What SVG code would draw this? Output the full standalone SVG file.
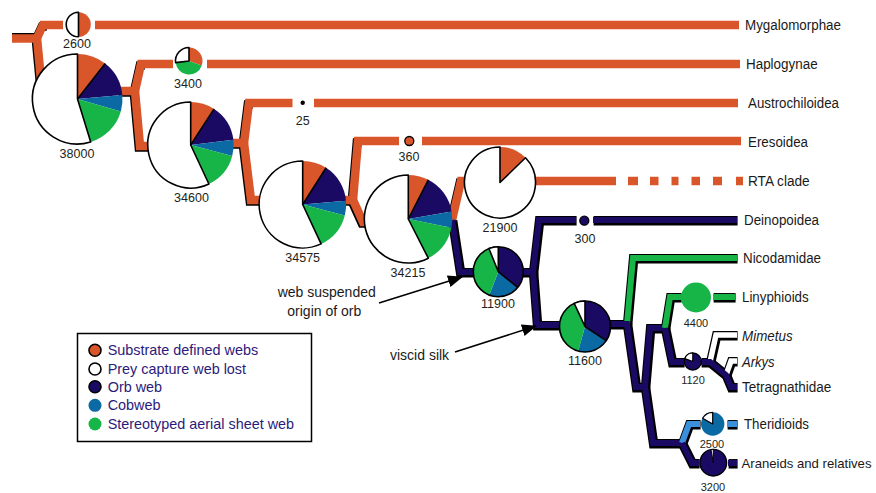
<svg xmlns="http://www.w3.org/2000/svg" width="876" height="493" viewBox="0 0 876 493">
<style>
.o{fill:none;stroke:#d9562b;stroke-width:8.5;stroke-linejoin:miter}
.sh{fill:none;stroke:#000;stroke-width:8.5;stroke-linejoin:miter}
.k{fill:none;stroke:#000;stroke-width:9.5;stroke-linejoin:miter}
.nv{fill:none;stroke:#1b0a64;stroke-width:6;stroke-linejoin:miter}
.gr{fill:none;stroke:#17b548;stroke-width:6;stroke-linejoin:miter}
.lb{fill:none;stroke:#3b8fdb;stroke-width:6;stroke-linejoin:miter}
.wh{fill:none;stroke:#fff;stroke-width:5.5;stroke-linejoin:miter}
.cO{fill:#d9562b}.cN{fill:#1b0a64}.cB{fill:#0b69a3}.cG{fill:#17b548}
.cW{fill:#fff;stroke:#000;stroke-width:1.6;stroke-linejoin:round}
.ring{fill:none;stroke:#000;stroke-width:1.6}
.rad{stroke:#000;stroke-width:1.6}
.num{font-family:"Liberation Sans",Arial,sans-serif;font-size:12.5px;fill:#231f20;text-anchor:middle}
.sn{font-size:11px}
.lab{font-family:"Liberation Sans",Arial,sans-serif;font-size:14px;fill:#1a1a1a}
.leg{font-family:"Liberation Sans",Arial,sans-serif;font-size:14.4px;fill:#2c1a7a}
.ann{font-family:"Liberation Sans",Arial,sans-serif;font-size:14px;fill:#1a1a1a}
</style>
<defs>
<marker id="ah" markerUnits="userSpaceOnUse" markerWidth="16" markerHeight="12" refX="14" refY="6" orient="auto">
<path d="M0 0 L15 6 L0 12 Z" fill="#000"/>
</marker>
</defs>
<rect width="876" height="493" fill="#fff"/>

<g id="connectors">
 <g transform="translate(-1.2,1.4)">
  <path class="sh" d="M37 38 L43 25 L48 25"/>
  <path class="sh" d="M37 38 L41 80"/>
  <path class="sh" d="M120 91 L135 91 L141 64 L146 64"/>
  <path class="sh" d="M135 91 L140 146 L160 146"/>
  <path class="sh" d="M232 143 L244 143 L249 103 L254 103"/>
  <path class="sh" d="M244 143 L251 200 L270 200"/>
  <path class="sh" d="M344 200 L353 200 L358 141 L363 141"/>
  <path class="sh" d="M353 200 L363 222 L380 222"/>
  <path class="sh" d="M450 220 L452 220 L461 181 L468 181"/>
 </g>
 <line x1="12" y1="34" x2="36" y2="34" stroke="#000" stroke-width="2"/>
 <path class="o" d="M12 38.5 L37 38.5"/>
 <path class="o" d="M37 38 L43 25 L63 25"/>
 <path class="o" d="M95 25 L739 25"/>
 <path class="o" d="M37 38 L41 80"/>
 <path class="o" d="M120 91 L135 91 L141 64 L173 64"/>
 <path class="o" d="M207 64 L740 64"/>
 <path class="o" d="M135 91 L140 146 L160 146"/>
 <path class="o" d="M232 143 L244 143 L249 103 L292.5 103"/>
 <path class="o" d="M314 103 L738 103"/>
 <path class="o" d="M244 143 L251 200 L270 200"/>
 <path class="o" d="M344 200 L353 200 L358 141 L399 141"/>
 <path class="o" d="M422 141 L741 141"/>
 <path class="o" d="M353 200 L363 222 L380 222"/>
 <path class="o" d="M450 220 L452 220 L461 181 L470 181"/>
 <path class="o" d="M533 181 L616 181"/>
 <g stroke="#d9562b" stroke-width="8.5">
  <line x1="628" y1="181" x2="638" y2="181"/>
  <line x1="650" y1="181" x2="658.5" y2="181"/>
  <line x1="671.5" y1="181" x2="678.5" y2="181"/>
  <line x1="691.5" y1="181" x2="700" y2="181"/>
  <line x1="713" y1="181" x2="722" y2="181"/>
  <line x1="736" y1="181" x2="743" y2="181"/>
 </g>

 <g transform="translate(0.6,0.8)">
  <path class="k" d="M452 220 L460 272 L480 272"/>
  <path class="k" d="M521 272 L533 272 L539 220 L576 220"/>
  <path class="k" d="M593 220 L737 220"/>
  <path class="k" d="M533 272 L537 325 L565 325"/>
  <path class="k" d="M608 324 L627 324 L636 387 L645 387"/>
  <path class="k" d="M645 387 L650 328 L665 328"/>
  <path class="k" d="M645 387 L653 443 L682 443"/>
  <path class="k" d="M627 324 L633 258 L737 258"/>
  <path class="k" d="M665 328 L670 297 L681 297"/>
  <path class="k" d="M713 297 L735 297"/>
  <path class="k" d="M665 328 L672 362 L684 362"/>
  <path class="k" d="M701 362 L710 362 L726 375 L731 387 L737 387"/>
  <path class="k" d="M710 362 L716 335 L737 335"/>
  <path class="k" d="M726 375 L731 361 L737 361"/>
  <path class="k" d="M682 443 L689 424 L700 424"/>
  <path class="k" d="M727 424 L737 424"/>
  <path class="k" d="M682 443 L692 463 L699 463"/>
  <path class="k" d="M728 463 L737 463"/>
 </g>
 <path class="nv" d="M452 220 L460 272 L480 272"/>
 <path class="nv" d="M521 272 L533 272 L539 220 L576 220"/>
 <path class="nv" d="M593 220 L737 220"/>
 <path class="nv" d="M533 272 L537 325 L565 325"/>
 <path class="gr" d="M627 324 L633 258 L737 258"/>
 <path class="nv" d="M608 324 L627 324 L636 387 L645 387"/>
 <path class="nv" d="M645 387 L650 328 L665 328"/>
 <path class="nv" d="M645 387 L653 443 L682 443"/>
 <path class="gr" d="M665 328 L670 297 L681 297"/>
 <path class="gr" d="M713 297 L735 297"/>
 <path class="nv" d="M665 328 L672 362 L684 362"/>
 <path class="wh" d="M710 362 L716 335 L737 335"/>
 <path class="wh" d="M726 375 L731 361 L737 361"/>
 <path class="nv" d="M701 362 L710 362 L726 375 L731 387 L737 387"/>
 <path class="lb" d="M682 443 L689 424 L700 424"/>
 <path class="lb" d="M727 424 L737 424"/>
 <path class="nv" d="M682 443 L692 463 L699 463"/>
 <path class="nv" d="M728 463 L737 463"/>

 <line x1="379" y1="303" x2="462" y2="277" stroke="#000" stroke-width="1.6" marker-end="url(#ah)"/>
 <line x1="455" y1="352" x2="536" y2="326" stroke="#000" stroke-width="1.6" marker-end="url(#ah)"/>
</g>

<g id="node-2600">
 <path class="cO" d="M78.5 12.2 A12.3 12.3 0 0 1 78.5 36.8 Z"/>
 <path class="cW" d="M78.5 36.8 A12.3 12.3 0 0 1 78.5 12.2 Z"/>
 <text class="num" x="77" y="47.5">2600</text>
</g>
<g id="node-38000">
 <path class="cO" d="M77.5 99 L77.5 54 A45 45 0 0 1 105.2 63.5 Z"/>
 <path class="cN" d="M77.5 99 L105.2 63.5 A45 45 0 0 1 122.3 95.1 Z"/>
 <path class="cB" d="M77.5 99 L122.3 95.1 A45 45 0 0 1 120.8 111.4 Z"/>
 <path class="cG" d="M77.5 99 L120.8 111.4 A45 45 0 0 1 90.7 142 Z"/>
 <path class="cW" d="M77.5 99 L90.7 142 A45 45 0 1 1 77.5 54 Z"/>
 <line class="rad" x1="77.5" y1="99" x2="105.2" y2="63.5"/>
 <text class="num" x="77" y="157.5">38000</text>
</g>
<g id="node-3400">
 <path class="cO" d="M189 61 L189 47.5 A13.5 13.5 0 0 1 201.8 65.4 Z"/>
 <path class="cG" d="M189 61 L201.8 65.4 A13.5 13.5 0 0 1 175.6 62.6 Z"/>
 <path class="cW" d="M189 61 L175.6 62.6 A13.5 13.5 0 0 1 189 47.5 Z"/>
 <text class="num" x="188" y="87.5">3400</text>
</g>
<g id="node-34600">
 <path class="cO" d="M190.7 145 L190.7 102 A43 43 0 0 1 214.1 108.9 Z"/>
 <path class="cN" d="M190.7 145 L214.1 108.9 A43 43 0 0 1 233.4 139.8 Z"/>
 <path class="cB" d="M190.7 145 L233.4 139.8 A43 43 0 0 1 232.2 156.1 Z"/>
 <path class="cG" d="M190.7 145 L232.2 156.1 A43 43 0 0 1 208.9 184 Z"/>
 <path class="cW" d="M190.7 145 L208.9 184 A43 43 0 1 1 190.7 102 Z"/>
 <line class="rad" x1="190.7" y1="145" x2="214.1" y2="108.9"/>
 <text class="num" x="191.5" y="201.5">34600</text>
</g>
<g id="node-25">
 <circle cx="302.7" cy="102.7" r="2.2" fill="#000"/>
 <text class="num" x="302.7" y="124.5">25</text>
</g>
<g id="node-34575">
 <path class="cO" d="M302.7 204.5 L302.7 161 A43.5 43.5 0 0 1 326.1 167.8 Z"/>
 <path class="cN" d="M302.7 204.5 L326.1 167.8 A43.5 43.5 0 0 1 346 200.7 Z"/>
 <path class="cB" d="M302.7 204.5 L346 200.7 A43.5 43.5 0 0 1 344.8 215.4 Z"/>
 <path class="cG" d="M302.7 204.5 L344.8 215.4 A43.5 43.5 0 0 1 321.1 243.9 Z"/>
 <path class="cW" d="M302.7 204.5 L321.1 243.9 A43.5 43.5 0 1 1 302.7 161 Z"/>
 <line class="rad" x1="302.7" y1="204.5" x2="326.1" y2="167.8"/>
 <text class="num" x="302.7" y="261.5">34575</text>
</g>
<g id="node-360">
 <circle cx="409.3" cy="141" r="4.5" fill="#d9562b" stroke="#000" stroke-width="1.3"/>
 <text class="num" x="409" y="160.5">360</text>
</g>
<g id="node-34215">
 <path class="cO" d="M408.3 219 L408.3 175 A44 44 0 0 1 428.3 179.8 Z"/>
 <path class="cN" d="M408.3 219 L428.3 179.8 A44 44 0 0 1 451.6 211.4 Z"/>
 <path class="cB" d="M408.3 219 L451.6 211.4 A44 44 0 0 1 451.4 227.8 Z"/>
 <path class="cG" d="M408.3 219 L451.4 227.8 A44 44 0 0 1 428.3 258.2 Z"/>
 <path class="cW" d="M408.3 219 L428.3 258.2 A44 44 0 1 1 408.3 175 Z"/>
 <line class="rad" x1="408.3" y1="219" x2="428.3" y2="179.8"/>
 <text class="num" x="408" y="277">34215</text>
</g>
<g id="node-21900">
 <path class="cO" d="M500 182.5 L500 147 A35.5 35.5 0 0 1 525.5 157.8 Z"/>
 <path class="cW" d="M500 182.5 L525.5 157.8 A35.5 35.5 0 1 1 500 147 Z"/>
 <text class="num" x="500" y="231.5">21900</text>
</g>
<g id="node-300">
 <circle cx="584.3" cy="220.7" r="4.5" fill="#1b0a64" stroke="#000" stroke-width="1.3"/>
 <text class="num" x="585" y="242.5">300</text>
</g>
<g id="node-11900">
 <path class="cN" d="M498.3 271.7 L498.3 246.7 A25 25 0 0 1 517.7 287.4 Z"/>
 <path class="cB" d="M498.3 271.7 L517.7 287.4 A25 25 0 0 1 489.3 295 Z"/>
 <path class="cG" d="M498.3 271.7 L489.3 295 A25 25 0 0 1 488.9 248.5 Z"/>
 <circle class="ring" cx="498.3" cy="271.7" r="25"/>
 <path class="cW" d="M498.3 271.7 L488.9 248.5 A25 25 0 0 1 498.3 246.7 Z"/>
 <line class="rad" x1="498.3" y1="271.7" x2="517.7" y2="287.4"/>
 <text class="num" x="498" y="307.5">11900</text>
</g>
<g id="node-11600">
 <path class="cN" d="M585 326.5 L585 301 A25.5 25.5 0 0 1 606.2 340.6 Z"/>
 <path class="cB" d="M585 326.5 L606.2 340.6 A25.5 25.5 0 0 1 578.2 351.1 Z"/>
 <path class="cG" d="M585 326.5 L578.2 351.1 A25.5 25.5 0 0 1 574.2 303.4 Z"/>
 <circle class="ring" cx="585" cy="326.5" r="25.5"/>
 <path class="cW" d="M585 326.5 L574.2 303.4 A25.5 25.5 0 0 1 585 301 Z"/>
 <line class="rad" x1="585" y1="326.5" x2="606.2" y2="340.6"/>
 <text class="num" x="585" y="364.5">11600</text>
</g>
<g id="node-4400">
 <circle cx="696" cy="297.5" r="15" fill="#17b548"/>
 <text class="num sn" x="696" y="326.5">4400</text>
</g>
<g id="node-1120">
 <circle cx="692.8" cy="361.5" r="8.5" fill="#1b0a64" stroke="#000" stroke-width="1.3"/>
 <path class="cW" style="stroke-width:1.2" d="M692.8 361.5 L684.8 358.6 A8.5 8.5 0 0 1 692.8 353 Z"/>
 <text class="num sn" x="693" y="383.5">1120</text>
</g>
<g id="node-2500">
 <circle cx="712.7" cy="424" r="11.7" fill="#0b69a3"/>
 <path class="cW" style="stroke-width:1.2" d="M712.7 424 L702.6 418.2 A11.7 11.7 0 0 1 712.7 412.3 Z"/>
 <text class="num sn" x="712" y="448">2500</text>
</g>
<g id="node-3200">
 <circle cx="713.3" cy="462.7" r="13.3" fill="#1b0a64" stroke="#000" stroke-width="1.4"/>
 <path class="cW" style="stroke-width:1" d="M713.3 462.7 L711 449.6 A13.3 13.3 0 0 1 713.3 449.4 Z"/>
 <text class="num sn" x="713" y="490.5">3200</text>
</g>

<g id="labels">
 <text class="lab" x="745" y="30" textLength="96" lengthAdjust="spacingAndGlyphs">Mygalomorphae</text>
 <text class="lab" x="746" y="69" textLength="71.6" lengthAdjust="spacingAndGlyphs">Haplogynae</text>
 <text class="lab" x="748" y="108" textLength="91" lengthAdjust="spacingAndGlyphs">Austrochiloidea</text>
 <text class="lab" x="748" y="147" textLength="60" lengthAdjust="spacingAndGlyphs">Eresoidea</text>
 <text class="lab" x="748" y="186" textLength="61.7" lengthAdjust="spacingAndGlyphs">RTA clade</text>
 <text class="lab" x="744" y="225" textLength="75" lengthAdjust="spacingAndGlyphs">Deinopoidea</text>
 <text class="lab" x="743" y="263" textLength="78" lengthAdjust="spacingAndGlyphs">Nicodamidae</text>
 <text class="lab" x="742" y="302" textLength="66.7" lengthAdjust="spacingAndGlyphs">Linyphioids</text>
 <text class="lab" x="742" y="341" font-style="italic" textLength="50.6" lengthAdjust="spacingAndGlyphs">Mimetus</text>
 <text class="lab" x="742" y="367" font-style="italic" textLength="32.6" lengthAdjust="spacingAndGlyphs">Arkys</text>
 <text class="lab" x="742" y="392" textLength="89.3" lengthAdjust="spacingAndGlyphs">Tetragnathidae</text>
 <text class="lab" x="744" y="429" textLength="65" lengthAdjust="spacingAndGlyphs">Theridioids</text>
 <text class="lab" x="741.5" y="468" style="font-size:13.2px" textLength="130" lengthAdjust="spacingAndGlyphs">Araneids and relatives</text>
</g>

<g id="annotations">
 <text class="ann" x="277.7" y="297">web suspended</text>
 <text class="ann" x="287.3" y="315.5">origin of orb</text>
 <text class="ann" x="390" y="360">viscid silk</text>
</g>

<g id="legend">
 <rect x="77.5" y="333.5" width="234" height="108" fill="#fff" stroke="#000" stroke-width="1.5"/>
 <circle cx="95" cy="350.3" r="6" fill="#d9562b" stroke="#000" stroke-width="1.6"/>
 <circle cx="95" cy="369" r="6" fill="#fff" stroke="#000" stroke-width="1.6"/>
 <circle cx="95" cy="386.7" r="6" fill="#1b0a64" stroke="#000" stroke-width="1.6"/>
 <circle cx="95" cy="405.3" r="6.5" fill="#0b69a3"/>
 <circle cx="95" cy="424" r="6.5" fill="#17b548"/>
 <text class="leg" x="107.7" y="355.3">Substrate defined webs</text>
 <text class="leg" x="107.7" y="374">Prey capture web lost</text>
 <text class="leg" x="107.7" y="391.7">Orb web</text>
 <text class="leg" x="107.7" y="410.3">Cobweb</text>
 <text class="leg" x="107.7" y="429">Stereotyped aerial sheet web</text>
</g>
</svg>
